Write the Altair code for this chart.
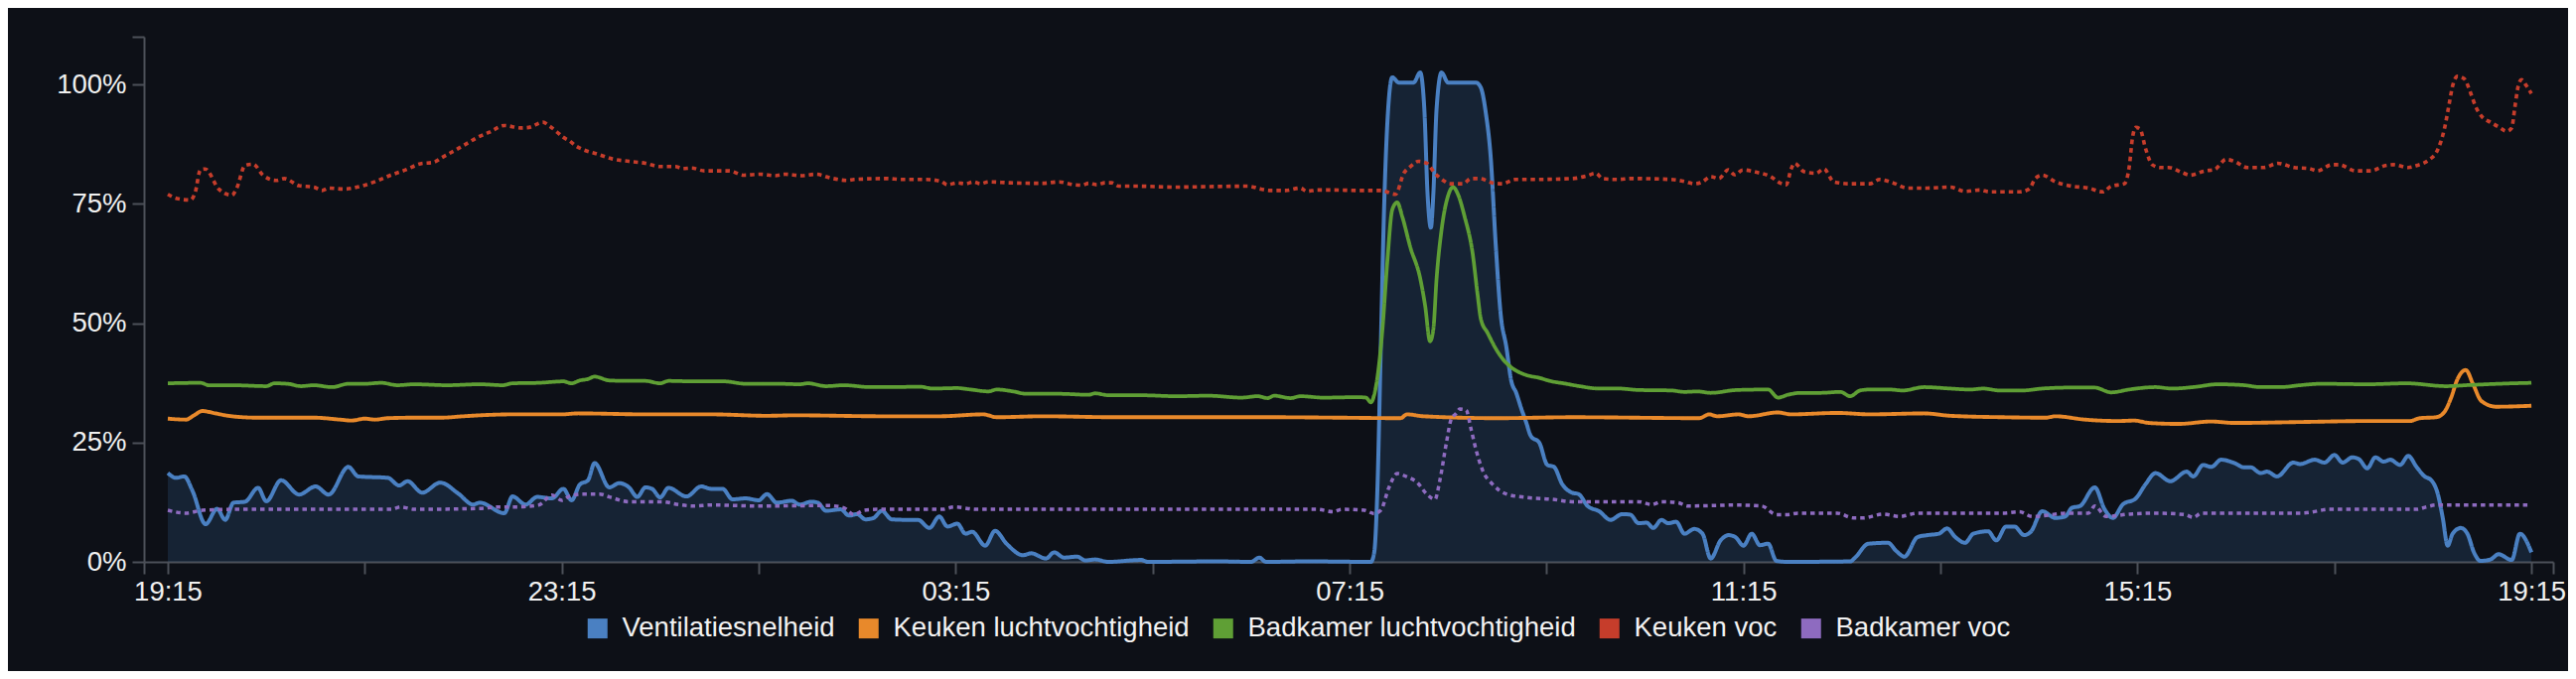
import altair as alt
import pandas as pd

SERIES = ["Ventilatiesnelheid", "Keuken luchtvochtigheid", "Badkamer luchtvochtigheid",
          "Keuken voc", "Badkamer voc"]
COLORS = ["#4a80c2", "#e8892b", "#5f9f35", "#c63d2b", "#8e6bc0"]
DASHES = [[1, 0], [1, 0], [1, 0], [4.5, 4], [4.5, 4]]
WIDTHS = [4, 3.5, 3.5, 4.5, 4.5]

# (minutes since 19:15, percent)
VENT = [(0,18.6),(5,17.6),(10,17.9),(15,14.9),(23,7.9),(30,11.1),(35,8.8),(40,12.4),(47,12.6),(55,15.5),
        (60,12.7),(69,17.1),(80,14.1),(90,15.8),(98,14.1),(110,19.9),(116,17.9),(134,17.6),(141,16.0),(146,16.9),
        (155,14.5),(166,16.6),(177,14.3),(186,12.0),(190,12.4),(205,10.2),(210,13.7),(218,12.0),(225,13.6),(234,13.3),
        (241,15.3),(246,12.9),(251,16.2),(256,17.1),(260,20.7),(269,15.6),(275,16.5),(281,15.6),(286,13.6),(291,15.6),
        (295,15.3),(300,13.5),(305,15.5),(316,13.7),(325,15.8),(331,15.3),(338,15.3),(344,13.1),(352,13.3),(360,12.9),
        (365,14.2),(371,12.4),(380,12.8),(385,12.0),(392,12.6),(396,12.4),(401,10.7),(410,11.0),(415,9.7),(420,10.0),
        (425,8.9),(430,9.2),(435,10.7),(441,8.9),(450,8.8),(457,8.8),(464,7.1),(470,9.5),(475,7.4),(481,8.0),
        (486,5.9),(490,6.3),(498,3.4),(504,6.5),(511,3.8),(521,1.4),(526,1.8),(535,0.7),(540,2.0),(546,0.9),
        (554,1.1),(559,0.3),(565,0.5),(573,0),(593,0.4),(597,0),(640,0.1),(660,0),(665,0.9),(669,0),
        (695,0.1),(733,0),(735,2),(737,16),(739,45),(741,74),(743,92),(746,101.5),(750,100.4),(759,100.4),
        (763,102.5),(765.5,95),(767.5,77),(769.5,70),(771,77),(773,95),(776,102.5),(780,100.4),(797,100.4),(800,99.3),
        (803,94),(806,84.6),(809,66.6),(812,52),(815.5,45),(818.5,37.9),(821.5,35.4),(824.5,32.2),(827.5,29.3),(830.5,26.3),
        (835.5,25),(840.5,20.3),(844.5,19.9),(849.5,16.3),(855.5,14.5),(859.5,14.2),(865,11.7),(872,10.6),(879,8.8),(886,10.0),
        (891,9.9),(896,8.1),(901,8.2),(905,7.1),(910,8.8),(914,8.1),(919,8.4),(924,5.9),(930,6.9),(935,5.9),
        (940,0.7),(946,4.5),(951,5.6),(955,5.2),(960,3.4),(965,5.9),(970,3.5),(975,3.8),(980,0.2),(987,0),
        (1025,0.1),(1028,0.9),(1036,3.8),(1048,4.0),(1053,2.3),(1058,1.1),(1066,5.2),(1072,5.6),(1079,5.9),(1084,7.0),
        (1089,5.2),(1095,4.0),(1100,5.9),(1109,6.4),(1114,4.5),(1120,7.4),(1125,7.4),(1131,5.6),(1135,6.3),(1142,10.6),
        (1150,9.2),(1156,9.5),(1160,11.3),(1165,11.7),(1174,15.6),(1180,11.0),(1185,9.2),(1191,12.0),(1199,13.3),(1205,16.3),
        (1211,18.6),(1220,16.9),(1230,18.9),(1234,17.9),(1240,20.3),(1245,19.9),(1251,21.4),(1259,20.7),(1265,19.8),(1269,19.8),
        (1275,18.6),(1279,18.9),(1285,17.9),(1295,20.8),(1299,20.5),(1308,21.4),(1314,20.8),(1320,22.4),(1325,20.8),(1331,21.9),
        (1335,21.5),(1340,19.6),(1345,21.9),(1350,21.0),(1354,21.4),(1360,20.3),(1365,22.2),(1370,19.9),(1375,17.9),(1379,17.1),
        (1383,14.2),(1386,9.2),(1389,3.4),(1392,5.9),(1397,7.1),(1401,5.9),(1405,2.0),(1409,0.2),(1415,0.5),(1420,1.6),
        (1428,0.4),(1433,5.9),(1440,2.0)]

KEUKEN_RH = [(0,30.0),(11,29.8),(16,30.7),(21,31.6),(29,31.1),(39,30.5),(55,30.2),(69,30.2),(89,30.2),(105,29.8),
             (112,29.6),(120,30.0),(126,29.8),(134,30.1),(150,30.2),(166,30.2),(180,30.5),(190,30.7),(210,30.9),(240,30.9),
             (250,31.1),(291,30.9),(331,30.9),(365,30.6),(382,30.7),(435,30.5),(470,30.5),(497,30.9),(505,30.3),(533,30.5),
             (577,30.3),(674,30.3),(715,30.2),(751,30.1),(755,30.9),(765,30.5),(810,30.1),(856,30.3),(933,30.1),(939,30.9),
             (944,30.5),(957,30.9),(963,30.5),(981,31.3),(989,30.9),(1017,31.2),(1037,30.9),(1070,31.1),(1086,30.6),(1118,30.3),
             (1144,30.2),(1150,30.5),(1168,29.8),(1188,29.5),(1198,29.6),(1207,29.1),(1225,28.9),(1245,29.4),(1259,29.1),(1300,29.3),
             (1340,29.5),(1366,29.5),(1372,30.1),(1382,30.3),(1387,31.4),(1391,34.3),(1395,38.3),(1400,40.2),(1404.5,37.2),(1409.5,33.7),
             (1418.5,32.5),(1440,32.7)]

BADKAMER_RH = [(0,37.4),(20,37.5),(25,37.0),(39,37.0),(60,36.8),(65,37.4),(73,37.3),(81,36.8),(89,37.0),(100,36.6),
               (110,37.3),(120,37.3),(130,37.5),(140,37.0),(150,37.2),(170,37.0),(190,37.2),(204,37.0),(210,37.4),(226,37.5),
               (241,37.8),(246,37.4),(251,38.0),(256,38.3),(260,38.8),(269,38.0),(281,37.9),(291,37.9),(300,37.4),(305,37.9),
               (321,37.8),(339,37.8),(352,37.3),(372,37.3),(385,37.2),(390,37.4),(401,36.8),(412,37.0),(428,36.6),(442,36.6),
               (458,36.7),(466,36.3),(481,36.4),(489,36.1),(500,35.7),(505,36.1),(515,35.7),(523,35.2),(543,35.2),(561,35.0),
               (565,35.3),(573,34.9),(593,34.9),(614,34.7),(634,34.8),(654,34.4),(664,34.7),(670,34.3),(674,34.8),(684,34.3),
               (690,34.7),(704,34.4),(725,34.5),(730,34.4),(733,33.4),(735,35.0),(738,41.5),(740,48.7),(743,63.0),(746,73.8),
               (749,75.3),(752,72.4),(757,65.9),(763,59.4),(766,53.7),(769,46.2),(771,48.7),(773,59.4),(776,69.5),(780,76.7),
               (783,78.5),(786,77.0),(790,72.4),(795,64.5),(798,55.9),(800,50.8),(804,48.0),(809,44.7),(814,42.2),(819,40.6),
               (827,39.2),(836,38.5),(842,37.9),(852,37.3),(860,36.8),(872,36.3),(884,36.3),(896,36.0),(916,35.9),(924,35.6),
               (932,35.7),(940,35.4),(956,36.0),(975,36.1),(981,34.4),(987,35.0),(995,35.4),(1007,35.4),(1019,35.6),(1025,34.7),
               (1031,35.9),(1037,36.1),(1049,36.1),(1057,35.9),(1070,36.6),(1086,36.3),(1098,36.1),(1106,36.3),(1116,35.9),(1130,35.9),
               (1142,36.3),(1158,36.5),(1174,36.5),(1184,35.5),(1195,36.1),(1211,36.6),(1221,36.3),(1234,36.6),(1249,37.2),(1265,37.0),
               (1275,36.6),(1287,36.6),(1299,37.0),(1312,37.3),(1340,37.2),(1364,37.4),(1388,36.8),(1400,37.0),(1420,37.3),(1440,37.5)]

KEUKEN_VOC = [(0,77.0),(5.6,76.1),(13.7,75.8),(16.7,77.4),(19.8,82.1),(22.8,82.3),(31,78.1),(39,76.8),(42,78.3),(47,83.0),
              (52,83.3),(58,81.0),(66,79.9),(71,80.3),(80,78.8),(89,78.5),(94,77.8),(98,78.3),(107.5,78.1),(117.6,78.7),
              (126.7,79.7),(135.7,81.0),(144.8,82.1),(153.9,83.4),(162,83.7),(167,84.7),(176,86.4),(183,87.8),(188,88.8),(196,90.0),
              (205,91.4),(215,90.9),(220,91.0),(228.5,92.1),(232.5,91.3),(236.6,90.2),(240.6,89.0),(244.7,88.2),(248.7,87.1),(252.7,86.4),
              (261.8,85.4),(270.9,84.4),(281,83.9),(291,83.5),(300,82.8),(309,82.8),(314,82.4),(319,82.5),(327,81.9),(342,81.9),
              (351,81.0),(361,81.2),(370,80.9),(376,81.2),(386,80.9),(395,81.2),(404,80.4),(414,79.9),(418,80.1),(438,80.3),
              (447,80.1),(462,80.1),(471,79.7),(475,79.0),(481,79.4),(486,79.2),(491,79.6),(495,79.2),(500,79.6),(513,79.4),
              (533,79.3),(543,79.6),(552,79.0),(557,78.9),(561,79.3),(566,79.0),(571,79.4),(575,79.4),(579.5,78.7),(590,78.7),
              (614,78.5),(634,78.6),(658,78.7),(666,78.1),(671,77.8),(681,77.8),(690,78.3),(694,77.6),(700,77.9),(709,77.9),
              (725,77.8),(739,77.8),(748,77.0),(753,81.4),(757,82.8),(762,83.9),(767,83.5),(772,81.4),(777,79.9),(781,79.2),
              (789,79.2),(794,80.3),(799,80.3),(807,79.4),(813,79.2),(821,80.1),(831,80.1),(856,80.3),(865,80.9),(870,81.4),
              (874,80.3),(883,80.1),(892,80.3),(916,80.1),(925,79.6),(930,79.2),(935,79.6),(940,80.7),(945,80.3),(950.6,82.1),
              (954.6,81.1),(959.6,82.1),(968,81.6),(977,80.6),(982,79.4),(986,79.0),(989,82.3),(991,83.5),(997,81.7),(1004,81.4),
              (1009,82.3),(1015,79.6),(1025,79.2),(1037,79.2),(1043,80.1),(1051,79.4),(1060,78.3),(1072,78.3),(1086,78.5),(1095,77.6),
              (1104,77.9),(1110,77.5),(1128,77.5),(1134,78.1),(1138,80.4),(1142,81.0),(1150,79.6),(1160,78.7),(1170,78.3),(1179,77.5),
              (1184,78.7),(1192,79.2),(1195,82.8),(1197,88.9),(1199,91.0),(1201.5,90.7),(1205,86.5),(1209,83.2),(1214,82.6),(1219,82.6),
              (1227,81.6),(1232,81.0),(1241,81.9),(1247,82.2),(1254,84.3),(1259,83.9),(1267,82.6),(1277,82.6),(1285.5,83.5),(1295.5,82.6),
              (1304.5,82.4),(1309.6,81.9),(1318.6,83.2),(1322.6,83.2),(1333,81.9),(1342,81.9),(1351,83.0),(1356,83.2),(1365,82.6),(1370,83.0),
              (1378,84.3),(1382,85.7),(1385,88.2),(1387,90.7),(1390,96.1),(1392,99.7),(1395,101.7),(1399,101.2),(1403,98.2),(1406,95.4),
              (1410,93.2),(1415,92.1),(1420,91.1),(1425,90.2),(1428,90.9),(1430,95.4),(1432,99.7),(1434,101.0),(1437,99.7),(1440,98.1)]

BADKAMER_VOC = [(0,10.8),(11,10.2),(21,10.8),(39,11.0),(89,11.0),(136,11.0),(142,11.5),(150,11.0),(190,11.2),(202,11.5),
                (212,11.5),(226,11.9),(234,14.0),(240,12.9),(245,13.8),(253,14.2),(263,14.2),(269,13.6),(281,12.6),(301,12.6),
                (311,12.0),(320,11.7),(331,11.9),(360,11.7),(402,11.8),(412,11.3),(418,9.9),(424,10.8),(432,11.0),(472,11.0),
                (479,11.5),(493,11.0),(700,11.0),(710,10.5),(715,11.0),(729,10.8),(735,10.1),(739,10.8),(744,15.6),(749,18.5),
                (755,17.8),(761,16.7),(767,14.2),(772,13.1),(775,17.1),(779,25.0),(782,30.0),(785,31.1),(787,32.0),(791,31.8),
                (794,27.8),(797,23.5),(801,19.2),(807,16.3),(815.5,14.2),(827.6,13.5),(843.7,13.1),(855.6,12.6),(896,12.6),(904,12.0),
                (910,12.6),(920,12.4),(926,11.7),(956,11.9),(971,11.7),(980,9.9),(987,9.9),(993,10.2),(1017,10.2),(1027,9.2),
                (1033,9.2),(1045,10.0),(1055,9.5),(1066,10.2),(1118,10.2),(1128,10.5),(1136,9.5),(1158,10.2),(1170,10.2),(1174,11.7),
                (1181,9.5),(1195,10.0),(1211,10.2),(1229,9.9),(1234,9.3),(1239,10.2),(1299,10.2),(1312,10.8),(1315,11.0),(1370,11.0),
                (1376,11.5),(1382,11.9),(1440,11.9)]

Y_TICKS = [0, 25, 50, 75, 100, 110]
X_TICKS = [-0.242, 0, 2, 4, 6, 8, 10, 12, 14, 16, 18, 20, 22, 24, 24.221]
X_DOMAIN = [-0.242, 24.221]

rows = []
for name, pts in zip(SERIES, [VENT, KEUKEN_RH, BADKAMER_RH, KEUKEN_VOC, BADKAMER_VOC]):
    for m, v in pts:
        rows.append({"series": name, "h": m / 60.0, "v": v})
df = pd.DataFrame(rows)
df_vent = df[df["series"] == SERIES[0]]
# one hidden swatch per series, only used to build the legend (clipped away)
df_key = pd.DataFrame({"series": SERIES, "h": [-5.0] * len(SERIES), "v": [50.0] * len(SERIES)})

FONT = "Liberation Sans"
FS = 27.5
BG = "#0d1017"
time_expr = ("(datum.value < 0 || datum.value > 24 || datum.value % 4 != 0) ? '' : "
             "((floor((datum.value + 19.25) % 24) < 10 ? '0' : '') + floor((datum.value + 19.25) % 24) + ':15')")

x_enc = alt.X("h:Q", scale=alt.Scale(domain=X_DOMAIN, nice=False, zero=False),
              axis=alt.Axis(values=X_TICKS, labelExpr=time_expr, title=None, grid=False,
                            labelOverlap=False, labelFlush=False, labelPadding=4))
y_enc = alt.Y("v:Q", scale=alt.Scale(domain=[0, 110], nice=False),
              axis=alt.Axis(values=Y_TICKS, title=None, grid=False,
                            labelExpr="datum.value > 100 ? '' : datum.value + '%'",
                            labelPadding=6))
color_scale = alt.Scale(domain=SERIES, range=COLORS)

area = alt.Chart(df_vent).mark_area(color=COLORS[0], opacity=0.17, interpolate="monotone").encode(
    x=x_enc, y=y_enc)

lines = alt.Chart(df).mark_line(interpolate="monotone", strokeCap="butt").encode(
    x=x_enc, y=y_enc,
    color=alt.Color("series:N", sort=SERIES, scale=color_scale, legend=None),
    strokeDash=alt.StrokeDash("series:N", sort=SERIES,
                              scale=alt.Scale(domain=SERIES, range=DASHES), legend=None),
    strokeWidth=alt.StrokeWidth("series:N", sort=SERIES,
                                scale=alt.Scale(domain=SERIES, range=WIDTHS), legend=None),
    order=alt.Order("h:Q"),
)

key = alt.Chart(df_key).mark_square(filled=True, clip=True, size=400, opacity=1).encode(
    x=x_enc, y=y_enc,
    color=alt.Color("series:N", sort=SERIES, scale=color_scale,
                    legend=alt.Legend(orient="none", legendX=443, legendY=582, direction="horizontal",
                                      title=None, symbolType="square", symbolSize=400,
                                      symbolStrokeWidth=0, symbolOpacity=1,
                                      labelFont=FONT, labelFontSize=FS,
                                      labelColor="#f2f2f2", labelLimit=600, columnPadding=20,
                                      labelOffset=11, padding=0)),
)

PAGE_CSS = ("html,body{background:" + BG + ";overflow:hidden;}"
            "body::before{content:'';position:absolute;left:2px;top:4px;width:2586px;height:690px;"
            "border:2px solid #2a2d34;box-sizing:border-box;pointer-events:none;}")

chart = alt.layer(area, lines, key).resolve_legend(color="independent").properties(
    width=2426, height=529,
    autosize=alt.AutoSizeParams(type="none"),
    padding={"left": 137, "top": 29, "right": 15, "bottom": 110},
    background=BG,
    usermeta={"embedOptions": {"defaultStyle": PAGE_CSS}},
).configure_view(stroke=None).configure_axis(
    domainColor="#4c5059", domainWidth=2, tickColor="#4c5059", tickWidth=2, tickSize=12,
    labelColor="#f0f0f0", labelFont=FONT, labelFontSize=FS,
)

chart.save("out.html", embed_options={"renderer": "svg", "actions": False})
